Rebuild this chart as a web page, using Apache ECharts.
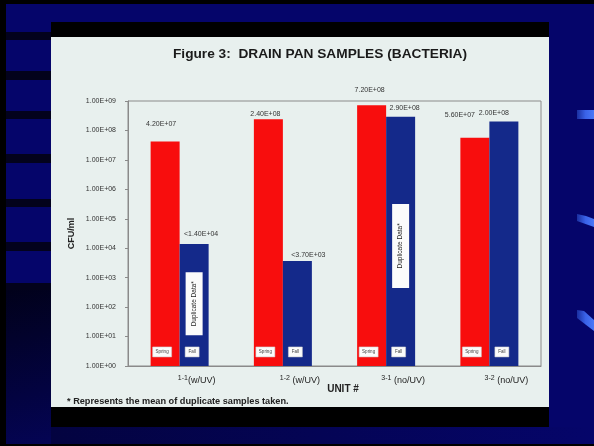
<!DOCTYPE html>
<html>
<head>
<meta charset="utf-8">
<script src="https://cdn.jsdelivr.net/npm/echarts@6/dist/echarts.min.js"></script>
<style>
  html, body { margin: 0; padding: 0; background: #05056a; }
  #chart { width: 594px; height: 446px; }
</style>
</head>
<body>
<div id="chart"></div>
<script>
// Sampled units and their UV treatment
const units = ['1-1', '1-2', '3-1', '3-2'];
const unitNotes = ['(w/UV)', ' (w/UV)', ' (no/UV)', ' (no/UV)'];

// Bacteria counts in the drain pans (CFU/ml)
const springCfu = [4.2e7, 2.4e8, 7.2e8, 5.6e7];
const fallCfu = [1.4e4, 3.7e3, 2.9e8, 2.0e8];
// Fall results reported as below the detection limit ("<")
const fallBelowLimit = [true, true, false, false];
// Fall results that are the mean of duplicate samples
const fallDuplicate = [true, false, true, false];

// Log axis range (decades)
const yMin = 1;
const yMax = 1e9;

// Value-label nudges [dx, dy] so labels sit clear of neighbours
const springLabelShift = [[-4, -9], [-3, 3], [-2, -7], [-15, -14]];
const fallLabelShift = [[7, -1], [11, 3], [4, 0], [-10, 0]];

const FONT = '"Liberation Sans", Arial, sans-serif';
const RED = '#f80d0d';
const BLUE = '#14298a';
const NAVY = '#05056a';

// 4.2e7 -> "4.20E+07"
function sci(v) {
  const parts = v.toExponential(2).split('e');
  const n = parseInt(parts[1], 10);
  return parts[0] + 'E' + (n < 0 ? '-' : '+') + String(Math.abs(n)).padStart(2, '0');
}

const chart = echarts.init(document.getElementById('chart'), null, { renderer: 'canvas' });

// Slide backdrop: navy screen, striped left margin, black slide bands
const W = 594, H = 446;
const leftStripes = [[32, 8], [71, 9], [111, 8], [154, 9], [199, 8], [242, 9], [283, 7]];
const backdrop = [
  { type: 'rect', shape: { x: 6, y: 283, width: 45, height: 163 },
    style: { fill: new echarts.graphic.LinearGradient(0, 0, 1, 1, [
      { offset: 0, color: '#010118' }, { offset: 1, color: '#040455' }]) } },
  { type: 'rect', shape: { x: 51, y: 427, width: 543, height: 19 },
    style: { fill: new echarts.graphic.LinearGradient(0, 0, 1, 0, [
      { offset: 0, color: '#030340' }, { offset: 1, color: NAVY }]) } }
];
leftStripes.forEach(function (s) {
  backdrop.push({ type: 'rect', shape: { x: 6, y: s[0], width: 45, height: s[1] }, style: { fill: '#03021c' } });
});
backdrop.push(
  { type: 'rect', shape: { x: 0, y: 0, width: 6, height: H }, style: { fill: '#000' } },
  { type: 'rect', shape: { x: 0, y: 0, width: W, height: 4 }, style: { fill: '#000' } },
  { type: 'rect', shape: { x: 0, y: H - 2, width: W, height: 2 }, style: { fill: '#000' } },
  { type: 'rect', shape: { x: 51, y: 22, width: 498, height: 15 }, style: { fill: '#000' } },
  { type: 'rect', shape: { x: 51, y: 37, width: 498, height: 370 }, style: { fill: '#e8f0ee' } },
  { type: 'rect', shape: { x: 51, y: 407, width: 498, height: 20 }, style: { fill: '#000' } }
);
// Light-blue accent strokes on the right edge
const accent = new echarts.graphic.LinearGradient(0, 0, 1, 0, [
  { offset: 0, color: '#1a2fa0' }, { offset: 0.5, color: '#3a62e8' }, { offset: 1, color: '#4a78f8' }]);
backdrop.push(
  { type: 'polygon', shape: { points: [[577, 110], [594, 110], [594, 119], [577, 119]] }, style: { fill: accent } },
  { type: 'polygon', shape: { points: [[577, 214], [586, 216], [594, 219], [594, 227], [577, 221]] }, style: { fill: accent } },
  { type: 'polygon', shape: { points: [[577, 310], [584, 311], [594, 320], [594, 331], [577, 318]] }, style: { fill: accent } }
);
backdrop.forEach(function (g) { g.z = -10; g.silent = true; });

function valueLabel(v, shift, prefix) {
  return {
    show: true, position: 'top', distance: 5, offset: shift,
    formatter: (prefix || '') + sci(v),
    fontFamily: FONT, fontSize: 7, color: '#333'
  };
}

const springData = springCfu.map(function (v, i) {
  return { value: v, label: valueLabel(v, springLabelShift[i]) };
});
const fallData = fallCfu.map(function (v, i) {
  return { value: v, label: valueLabel(v, fallLabelShift[i], fallBelowLimit[i] ? '<' : '') };
});

// Season tags near the foot of each bar
function seasonTags(text, width, dx) {
  return {
    symbol: 'rect', symbolSize: [width, 10], symbolOffset: [dx, 0],
    itemStyle: { color: '#fbfbfb', borderColor: '#ccc', borderWidth: 0.5 },
    label: { show: true, position: 'inside', formatter: text, fontFamily: FONT, fontSize: 4.5, color: '#444' },
    data: units.map(function (u, i) { return { coord: [i, 3] }; })
  };
}

const fallTags = seasonTags('Fall', 14, -2);
// "Duplicate Data*" notes inside the fall bars
const dupCenters = [130, 12000];
const dupHeights = [63, 84];
let k = 0;
fallDuplicate.forEach(function (d, i) {
  if (!d) return;
  fallTags.data.push({
    coord: [i, dupCenters[k]], symbol: 'rect', symbolSize: [17, dupHeights[k]], symbolOffset: [0, 0],
    itemStyle: { color: '#fbfbfb', borderWidth: 0 },
    label: { show: true, position: 'inside', rotate: 90, formatter: 'Duplicate Data*',
      fontFamily: FONT, fontSize: 6.5, color: '#222' }
  });
  k++;
});

const option = {
  backgroundColor: NAVY,
  animation: false,
  graphic: backdrop,
  title: [
    { text: 'Figure 3:  DRAIN PAN SAMPLES (BACTERIA)', left: 320, top: 47, textAlign: 'center', padding: 0,
      textStyle: { fontFamily: FONT, fontSize: 13.7, fontWeight: 'bold', color: '#1a1a1a' } },
    { text: '* Represents the mean of duplicate samples taken.', left: 67, top: 397, padding: 0,
      textStyle: { fontFamily: FONT, fontSize: 9.2, fontWeight: 'bold', color: '#222' } }
  ],
  grid: { left: 128, right: 53, top: 101, bottom: 80, show: true, borderColor: '#8a8a8a', borderWidth: 1,
    backgroundColor: 'transparent' },
  xAxis: {
    type: 'category', data: units,
    axisLine: { lineStyle: { color: '#8a8a8a' } },
    axisTick: { show: false },
    axisLabel: {
      interval: 0, hideOverlap: false,
      margin: 9, padding: [0, 0, 0, 34],
      formatter: function (u, i) { return '{sup|' + u + '}{note|' + unitNotes[i] + '}'; },
      rich: {
        sup: { fontFamily: FONT, fontSize: 7, color: '#222', padding: [0, 0, 4, 0] },
        note: { fontFamily: FONT, fontSize: 9, color: '#222' }
      }
    },
    name: 'UNIT #', nameLocation: 'middle', nameGap: 18, nameMoveOverlap: false,
    nameTextStyle: { fontFamily: FONT, fontSize: 10, fontWeight: 'bold', color: '#222', padding: [0, 0, 0, 17] }
  },
  yAxis: {
    type: 'log', logBase: 10, min: yMin, max: yMax,
    axisLine: { show: true, lineStyle: { color: '#8a8a8a' } },
    axisTick: { show: true, length: 3, lineStyle: { color: '#8a8a8a' } },
    splitLine: { show: false },
    axisLabel: { margin: 12, fontFamily: FONT, fontSize: 7, color: '#333', formatter: sci },
    name: 'CFU/ml', nameLocation: 'middle', nameGap: 52, nameMoveOverlap: false,
    nameTextStyle: { fontFamily: FONT, fontSize: 9, fontWeight: 'bold', color: '#222' }
  },
  series: [
    { name: 'Spring', type: 'bar', data: springData, barWidth: 29, barGap: '0%',
      itemStyle: { color: RED },
      markPoint: seasonTags('Spring', 19, -3) },
    { name: 'Fall', type: 'bar', data: fallData, barWidth: 29, barGap: '0%',
      itemStyle: { color: BLUE },
      markPoint: fallTags }
  ]
};

chart.setOption(option);
</script>
</body>
</html>
